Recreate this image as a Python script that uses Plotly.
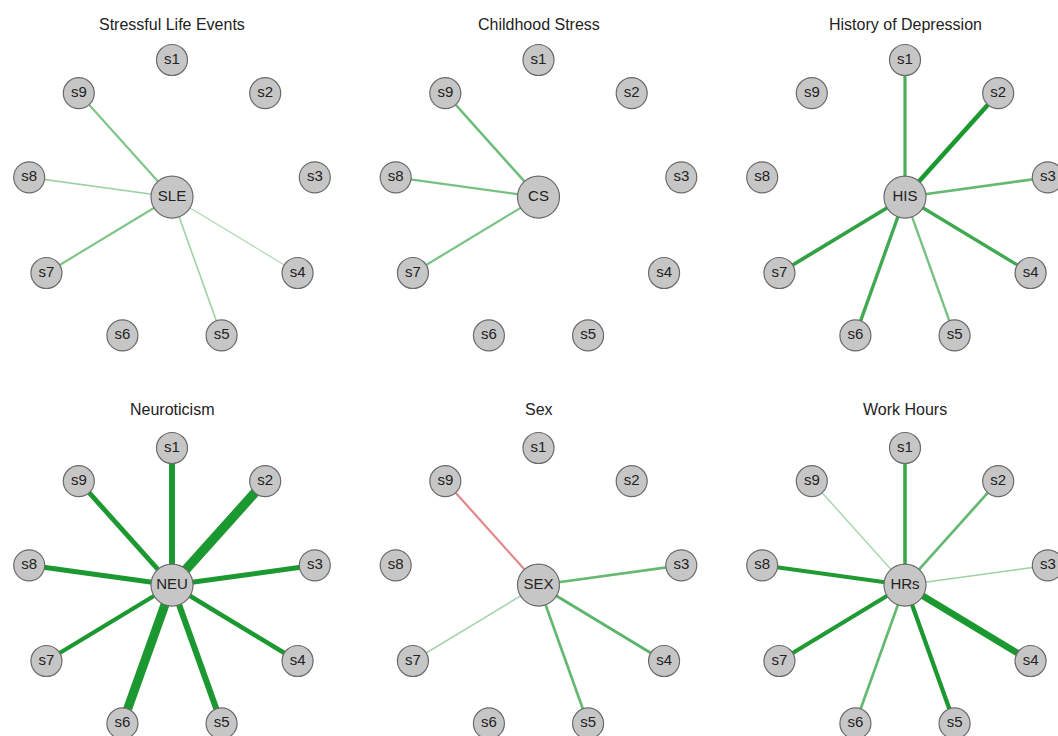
import math
import plotly.graph_objects as go

# ---- data ----
panel_titles = ["Stressful Life Events", "Childhood Stress", "History of Depression",
                "Neuroticism", "Sex", "Work Hours"]
hub_labels = ["SLE", "CS", "HIS", "NEU", "SEX", "HRs"]
symptom_labels = ["s1", "s2", "s3", "s4", "s5", "s6", "s7", "s8", "s9"]

# edge weights hub -> s1..s9 (0 = no edge, negative = red)
sle_w = [0, 0, 0, 0.03, 0.07, 0, 0.14, 0.07, 0.14]
cs_w = [0, 0, 0, 0, 0, 0, 0.15, 0.16, 0.18]
his_w = [0.26, 0.42, 0.2, 0.28, 0.16, 0.28, 0.32, 0, 0]
neu_w = [0.58, 1.0, 0.48, 0.42, 0.6, 0.95, 0.38, 0.48, 0.45]
sex_w = [0, 0, 0.2, 0.22, 0.2, 0, 0.06, 0, -0.14]
hrs_w = [0.3, 0.2, 0.07, 0.68, 0.38, 0.2, 0.36, 0.36, 0.05]
panel_weights = [sle_w, cs_w, his_w, neu_w, sex_w, hrs_w]

# ---- layout / style ----
W, H = 1058, 736
col_cx = [172, 538.5, 905]
row_cy = [202, 590]
title_py = [24, 409]
col_dom = [(0, 355), (355, 722), (722, W)]
row_dom = [(0, 388), (388, H)]
SX, SY = 145.0, 142.0
FONT = "Arial, Liberation Sans, Helvetica, sans-serif"

POS = (28, 152, 48)
NEG = (205, 45, 45)


def edge_color(w):
    base = POS if w > 0 else NEG
    t = min(1.0, 0.3 + 1.9 * abs(w))
    r, g, b = [round(255 * (1 - t) + c * t) for c in base]
    return f"rgb({r},{g},{b})"


angles = [math.radians(90 - 40 * k) for k in range(9)]
sym_x = [math.cos(a) for a in angles]
sym_y = [math.sin(a) for a in angles]
hub_x, hub_y = 0.0, 0.035

fig = go.Figure()
layout_axes = {}
annotations = []

for p in range(6):
    r, c = divmod(p, 3)
    idx = p + 1
    xa = "x" if idx == 1 else f"x{idx}"
    ya = "y" if idx == 1 else f"y{idx}"
    cx, cy = col_cx[c], row_cy[r]
    d0, d1 = col_dom[c]
    t0, t1 = row_dom[r]
    layout_axes["xaxis" if idx == 1 else f"xaxis{idx}"] = dict(
        domain=[d0 / W, d1 / W], range=[(d0 - cx) / SX, (d1 - cx) / SX],
        visible=False, fixedrange=True)
    layout_axes["yaxis" if idx == 1 else f"yaxis{idx}"] = dict(
        domain=[1 - t1 / H, 1 - t0 / H], range=[-(t1 - cy) / SY, (cy - t0) / SY],
        visible=False, fixedrange=True)

    weights = panel_weights[p]
    for k, w in enumerate(weights):
        if w == 0:
            continue
        fig.add_trace(go.Scatter(
            x=[hub_x, sym_x[k]], y=[hub_y, sym_y[k]], mode="lines",
            line=dict(color=edge_color(w), width=1 + 8.5 * abs(w)),
            xaxis=xa, yaxis=ya, hoverinfo="skip", showlegend=False))

    fig.add_trace(go.Scatter(
        x=sym_x, y=sym_y, mode="markers+text", text=symptom_labels,
        textposition="middle center",
        textfont=dict(family=FONT, size=15, color="#222222"),
        marker=dict(size=31, color="#c6c6c6", line=dict(color="#6a6a6a", width=1.2)),
        xaxis=xa, yaxis=ya, hoverinfo="text", showlegend=False))
    fig.add_trace(go.Scatter(
        x=[hub_x], y=[hub_y], mode="markers+text", text=[hub_labels[p]],
        textposition="middle center",
        textfont=dict(family=FONT, size=15, color="#222222"),
        marker=dict(size=42, color="#c6c6c6", line=dict(color="#6a6a6a", width=1.2)),
        xaxis=xa, yaxis=ya, hoverinfo="text", showlegend=False))

    annotations.append(dict(
        text=panel_titles[p], xref=xa, yref=ya, x=0, y=(cy - title_py[r]) / SY,
        showarrow=False, font=dict(family=FONT, size=16, color="#222222"),
        xanchor="center", yanchor="middle"))

fig.update_layout(
    width=W, height=H, margin=dict(l=0, r=0, t=0, b=0),
    paper_bgcolor="white", plot_bgcolor="white",
    annotations=annotations, **layout_axes)

fig.write_html(
    "out.html",
    config={"displayModeBar": False, "staticPlot": True},
    post_script="document.body.style.margin='0';document.body.style.overflow='hidden';")
